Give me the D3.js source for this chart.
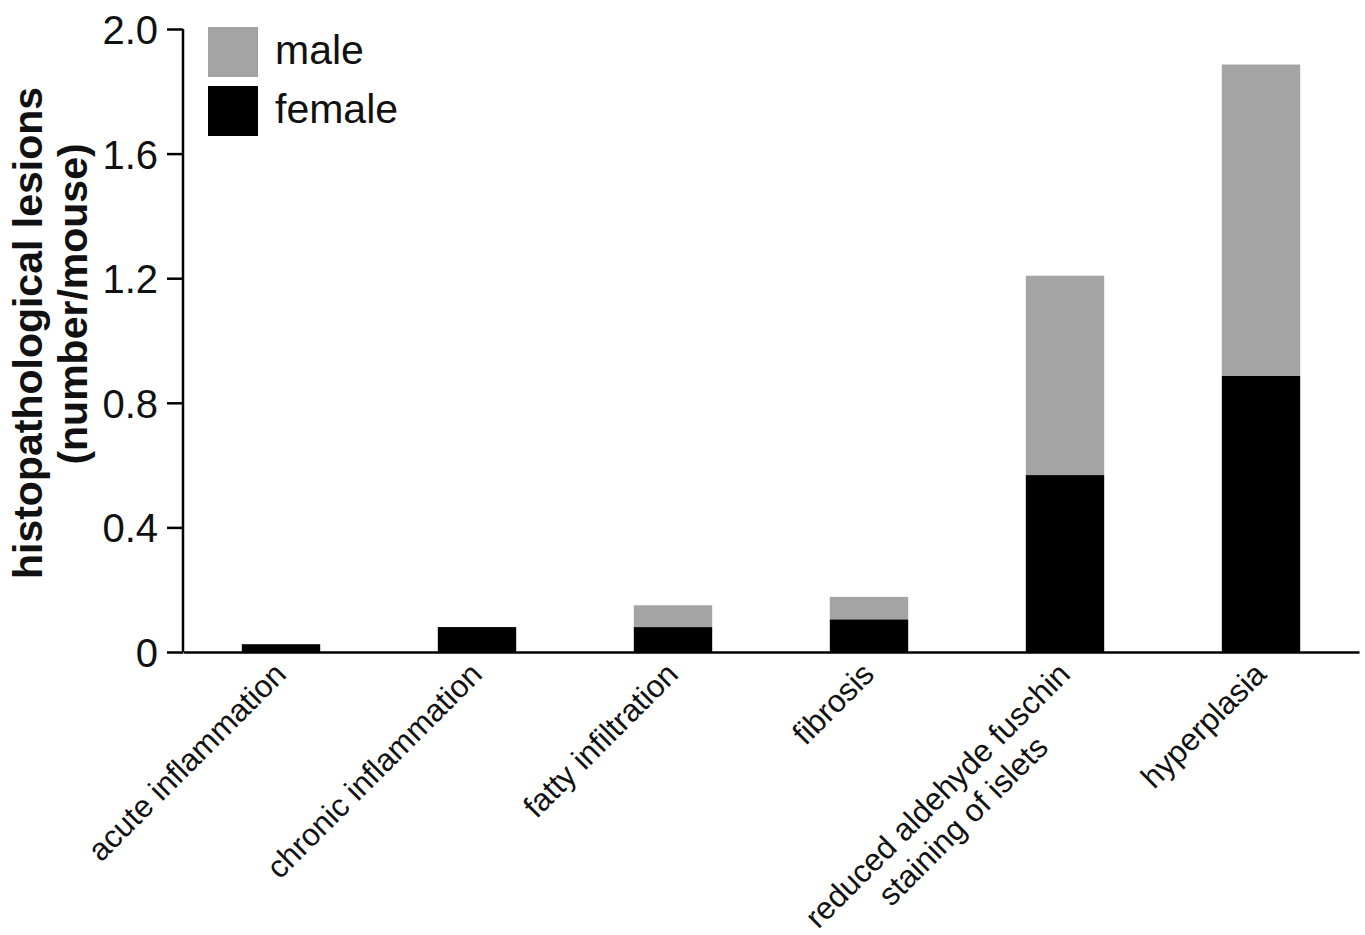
<!DOCTYPE html>
<html>
<head>
<meta charset="utf-8">
<script src="https://cdn.jsdelivr.net/npm/d3@7"></script>
<style>
  body { margin: 0; background: #fff; }
  svg { display: block; font-family: "Liberation Sans", Arial, sans-serif; }
</style>
</head>
<body>
<svg width="1365" height="935"></svg>
<script>
// lesion categories (label lines)
var categories = ["acute inflammation", "chronic inflammation", "fatty infiltration",
                  "fibrosis", "reduced aldehyde fuschin|staining of islets", "hyperplasia"];
var female = [0.025, 0.08, 0.08, 0.105, 0.568, 0.886];
var male = [0, 0, 0.07, 0.072, 0.64, 1.0];
var yTicks = [0, 0.4, 0.8, 1.2, 1.6, 2.0];
var series = ["male", "female"];

var svg = d3.select("svg");
var width = 1365, height = 935;

var x = d3.scaleBand().domain(categories).range([183, 1359])
    .paddingInner(0.6).paddingOuter(0.3);
var y = d3.scaleLinear().domain([0, 2]).range([652, 29]);
var color = d3.scaleOrdinal().domain(series).range(["#a4a4a4", "#000000"]);

var rows = categories.map(function(c, i) { return {cat: c, female: female[i], male: male[i]}; });
var stacked = d3.stack().keys(["female", "male"])(rows);

svg.selectAll("g.layer")
    .data(stacked)
    .enter().append("g")
    .attr("class", "layer")
    .attr("fill", function(d) { return color(d.key); })
  .selectAll("rect")
    .data(function(d) { return d; })
    .enter().append("rect")
    .attr("x", function(d) { return x(d.data.cat); })
    .attr("width", x.bandwidth())
    .attr("y", function(d) { return y(d[1]); })
    .attr("height", function(d) { return y(d[0]) - y(d[1]); });

// y axis
var yAxis = svg.append("g")
    .attr("transform", "translate(183,0)")
    .call(d3.axisLeft(y).tickValues(yTicks).tickSize(16).tickPadding(9)
        .tickFormat(function(d) { return d === 0 ? "0" : d3.format(".1f")(d); }));
yAxis.select(".domain").attr("stroke-width", 2.5).attr("d", "M0," + y(2) + "V" + y(0));
yAxis.selectAll(".tick line").attr("stroke-width", 2.5);
yAxis.selectAll(".tick text").attr("font-size", 40).attr("fill", "#111")
    .attr("font-family", "Liberation Sans, Arial, sans-serif").attr("dy", "0.36em");

// x axis
var xAxis = svg.append("g")
    .attr("transform", "translate(0," + y(0) + ")")
    .call(d3.axisBottom(x).tickSize(0).tickFormat(""));
xAxis.select(".domain").attr("stroke-width", 2.5);

var labels = svg.append("g").selectAll("g")
    .data(categories)
    .enter().append("g")
    .attr("transform", function(d) {
        return "translate(" + (x(d) + x.bandwidth() / 2 + 7) + ",676) rotate(-45)";
    });
labels.each(function(d) {
    var g = d3.select(this);
    var parts = d.split("|");
    var t1 = g.append("text")
        .attr("text-anchor", "end")
        .attr("font-size", 31.5)
        .attr("fill", "#111")
        .text(parts[0]);
    if (parts.length > 1) {
        var w = t1.node().getComputedTextLength();
        g.append("text")
            .attr("text-anchor", "middle")
            .attr("x", -w / 2)
            .attr("y", 36)
            .attr("font-size", 31.5)
            .attr("fill", "#111")
            .text(parts[1]);
    }
});

// y title
svg.append("text")
    .attr("transform", "translate(42,333) rotate(-90)")
    .attr("text-anchor", "middle")
    .attr("font-size", 41)
    .attr("font-weight", "bold")
    .attr("fill", "#111")
    .text("histopathological lesions");
svg.append("text")
    .attr("transform", "translate(87,304) rotate(-90)")
    .attr("text-anchor", "middle")
    .attr("font-size", 41)
    .attr("font-weight", "bold")
    .attr("fill", "#111")
    .text("(number/mouse)");

// legend
var legend = svg.append("g").selectAll("g")
    .data(series)
    .enter().append("g")
    .attr("transform", function(d, i) { return "translate(208," + (27 + i * 59) + ")"; });
legend.append("rect")
    .attr("width", 50).attr("height", 50)
    .attr("fill", function(d) { return color(d); });
legend.append("text")
    .attr("x", 67).attr("y", 37)
    .attr("font-size", 41)
    .attr("fill", "#111")
    .text(function(d) { return d; });
</script>
</body>
</html>
